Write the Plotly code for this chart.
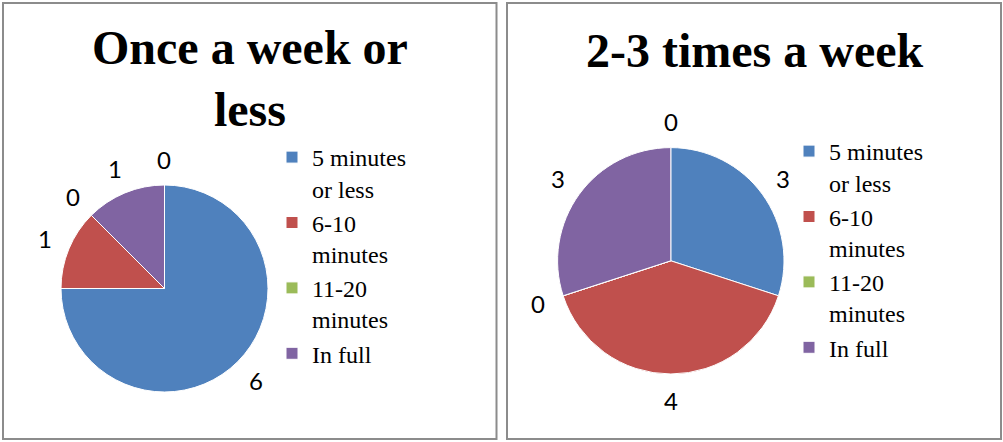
import math
import plotly.graph_objects as go

# ---- data ----
categories = ["5 minutes<br>or less", "6-10<br>minutes", "11-20<br>minutes", "In full", ""]
once_a_week = [6, 1, 0, 1, 0]
two_three_week = [3, 4, 0, 3, 0]
titles = ["Once a week or<br>less", "2-3 times a week"]
colors = ["#4F81BD", "#C0504D", "#9BBB59", "#8064A2", "#4BACC6"]

# ---- layout constants ----
W, H = 1003, 442
pie_geo = [(164.5, 288.5, 103.5), (670.8, 260.8, 113.2)]  # centre x, centre y, radius (px)
label_off = 26
panels = [(3, 496.5), (507, 1001)]

fig = go.Figure()
ann = []
for k, (vals, (cx, cy, r)) in enumerate(zip([once_a_week, two_three_week], pie_geo)):
    dom_x = [(cx - r) / W, (cx + r) / W]
    dom_y = [1 - (cy + r) / H, 1 - (cy - r) / H]
    fig.add_trace(go.Pie(
        labels=categories[:4], values=vals[:4], sort=False, direction="clockwise",
        rotation=0, domain=dict(x=dom_x, y=dom_y), textinfo="none",
        marker=dict(colors=colors[:4], line=dict(color="white", width=1)),
        legend="legend" if k == 0 else "legend2", legendgroup="g%d" % k,
        hoverinfo="label+value",
    ))
    total = sum(vals)
    cum = 0
    for v in vals:
        mid = (cum + v / 2) / total * 2 * math.pi
        cum += v
        rr = r + label_off
        px = cx + rr * math.sin(mid)
        py = cy - rr * math.cos(mid)
        ann.append(dict(x=px / W, y=1 - py / H, xref="paper", yref="paper",
                        text=str(v), showarrow=False, xanchor="center", yanchor="middle",
                        font=dict(family="Lato", size=24, color="black")))

# titles
title_pos = [(249.7, 78), (754.5, 50)]
for t, (tx, ty) in zip(titles, title_pos):
    ann.append(dict(x=tx / W, y=1 - ty / H, xref="paper", yref="paper", text="<b>" + t + "</b>",
                    showarrow=False, xanchor="center", yanchor="middle",
                    font=dict(family="Liberation Serif", size=48, color="black")))

shapes = [dict(type="rect", xref="paper", yref="paper", x0=x0 / W, x1=x1 / W,
               y0=1 - 439 / H, y1=1 - 3 / H, line=dict(color="#8c8c8c", width=2))
          for x0, x1 in panels]

leg_font = dict(family="Liberation Serif", size=24, color="black")
fig.update_layout(
    width=W, height=H, margin=dict(l=0, r=0, t=0, b=0),
    paper_bgcolor="white", plot_bgcolor="white",
    annotations=ann, shapes=shapes,
    legend=dict(x=272 / W, y=1 - 135 / H, xanchor="left", yanchor="top", font=leg_font,
                valign="top", bgcolor="rgba(0,0,0,0)", tracegroupgap=0),
    legend2=dict(x=789 / W, y=1 - 129 / H, xanchor="left", yanchor="top", font=leg_font,
                 valign="top", bgcolor="rgba(0,0,0,0)", tracegroupgap=0),
)
fig.write_html("out.html", config={"displayModeBar": False},
               post_script="document.body.style.margin='0px';")
